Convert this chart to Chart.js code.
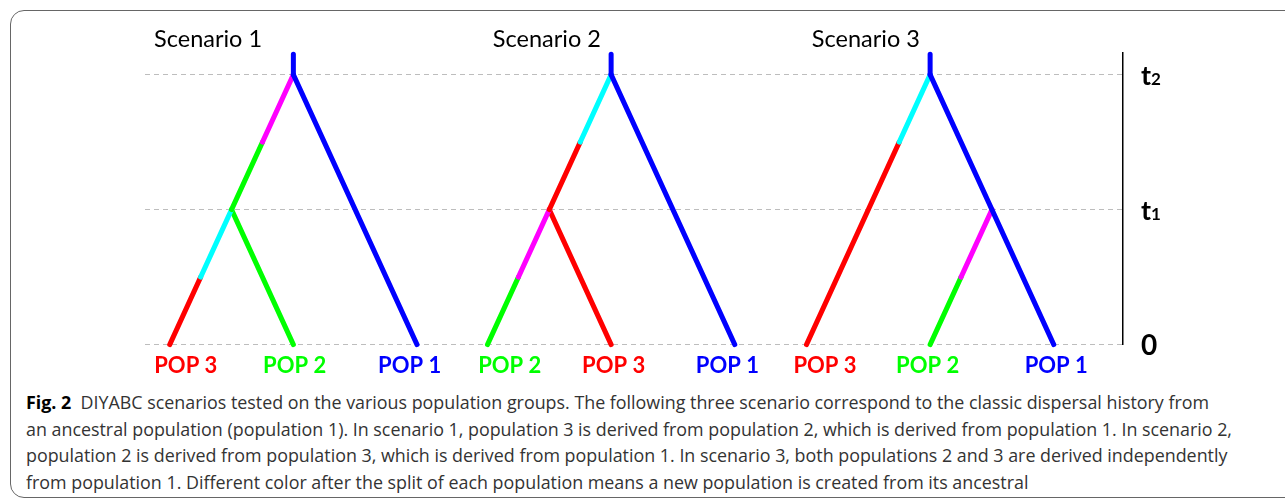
<!DOCTYPE html>
<html>
<head>
<meta charset="utf-8">
<script src="https://cdn.jsdelivr.net/npm/chart.js@4"></script>
<style>
  html, body { margin: 0; padding: 0; background: #fff; }
  body { width: 1285px; height: 500px; position: relative; overflow: hidden; }
  #frame { position: absolute; left: 10px; top: 10px; width: 1300px; height: 486px;
           border: 1.5px solid #666; border-radius: 14px; }
  #wrap { position: absolute; left: 0; top: 0; width: 1285px; height: 389px; }
  #caption { position: absolute; left: 26px; top: 389px; font-family: 'Open Sans', sans-serif;
             font-size: 18.5px; line-height: 26.5px; color: #333; white-space: nowrap; }
  #caption div { transform-origin: 0 0; }
  #caption b { color: #000; }
</style>
</head>
<body>
<div id="frame"></div>
<div id="wrap"><canvas id="chart"></canvas></div>
<div id="caption">
  <div><b>Fig. 2</b>&nbsp; DIYABC scenarios tested on the various population groups. The following three scenario correspond to the classic dispersal history from</div>
  <div>an ancestral population (population 1). In scenario 1, population 3 is derived from population 2, which is derived from population 1. In scenario 2,</div>
  <div>population 2 is derived from population 3, which is derived from population 1. In scenario 3, both populations 2 and 3 are derived independently</div>
  <div>from population 1. Different color after the split of each population means a new population is created from its ancestral</div>
</div>
<script>
const scenarioNames = ['Scenario 1', 'Scenario 2', 'Scenario 3'];
const scenarioOffset = [0, 2.57, 5.15];
const titleX = [0.31, 0.48, 0.48];
const titleT = 2.26;

const tipX = [0, 1, 2];
const tipNames = [['POP 3', 'POP 2', 'POP 1'], ['POP 2', 'POP 3', 'POP 1'], ['POP 3', 'POP 2', 'POP 1']];
const tipLabelShift = [[0.13, 0.01, -0.06], [0.18, 0.02, -0.06], [0.15, -0.02, 0.02]];

const timeTicks = [0, 1, 2];
const timeNames = [['0', ''], ['t', '1'], ['t', '2']];

const colors = { R: '#ff0000', G: '#00ff00', B: '#0000ff', M: '#ff00ff', C: '#00ffff' };
const popColor = { 'POP 1': colors.B, 'POP 2': colors.G, 'POP 3': colors.R };

// branch: [x start, time start, x end, time end, time where colour changes, upper colour, lower colour]
const branches1 = [
  [1, 2.15, 1, 2, 2, 'B', 'B'],
  [1, 2, 2, 0, 0, 'B', 'B'],
  [1, 2, 0.5, 1, 1.5, 'M', 'G'],
  [0.5, 1, 0, 0, 0.5, 'C', 'R'],
  [0.5, 1, 1, 0, 0.5, 'G', 'G']
];
const branches2 = [
  [1, 2.15, 1, 2, 2, 'B', 'B'],
  [1, 2, 2, 0, 0, 'B', 'B'],
  [1, 2, 0.5, 1, 1.5, 'C', 'R'],
  [0.5, 1, 0, 0, 0.5, 'M', 'G'],
  [0.5, 1, 1, 0, 0.5, 'R', 'R']
];
const branches3 = [
  [1, 2.15, 1, 2, 2, 'B', 'B'],
  [1, 2, 2, 0, 0, 'B', 'B'],
  [1, 2, 0, 0, 1.5, 'C', 'R'],
  [1.5, 1, 1, 0, 0.5, 'M', 'G']
];

function lineSet(points, color) {
  return {
    data: points,
    showLine: true,
    borderColor: color,
    borderWidth: 5,
    borderCapStyle: 'round',
    pointRadius: 0,
    clip: false
  };
}

const datasets = [];
[branches1, branches2, branches3].forEach((branches, s) => {
  const off = scenarioOffset[s];
  branches.forEach(([x0, t0, x1, t1, tc, up, low]) => {
    const f = (t0 - tc) / (t0 - t1);
    const xc = x0 + (x1 - x0) * f;
    if (up === low) {
      datasets.push(lineSet([{ x: off + x0, y: t0 }, { x: off + x1, y: t1 }], colors[up]));
    } else {
      datasets.push(lineSet([{ x: off + x0, y: t0 }, { x: off + xc, y: tc }], colors[up]));
      datasets.push(lineSet([{ x: off + xc, y: tc }, { x: off + x1, y: t1 }], colors[low]));
    }
  });
});

const tipTickValues = [];
const tipTickLabels = [];
tipNames.forEach((names, s) => {
  names.forEach((n, i) => {
    tipTickValues.push(scenarioOffset[s] + tipX[i] + tipLabelShift[s][i]);
    tipTickLabels.push(n);
  });
});

const treeText = {
  id: 'treeText',
  afterDraw(chart) {
    const { ctx, scales: { x, y } } = chart;
    ctx.save();
    ctx.fillStyle = '#000';
    ctx.font = '23.5px Lato';
    ctx.textAlign = 'center';
    ctx.textBaseline = 'middle';
    scenarioNames.forEach((name, s) => {
      ctx.fillText(name, x.getPixelForValue(scenarioOffset[s] + titleX[s]), y.getPixelForValue(titleT));
    });

    ctx.textAlign = 'left';
    ctx.textBaseline = 'alphabetic';
    timeTicks.forEach((t, i) => {
      const [main, sub] = timeNames[i];
      const px = y.right + 18;
      const py = y.getPixelForValue(t) + 10;
      ctx.font = main === '0' ? 'bold 28px Lato' : 'bold 27px Lato';
      ctx.fillText(main, px, py);
      if (sub) {
        const w = ctx.measureText(main).width;
        ctx.font = 'bold 17px Lato';
        ctx.fillText(sub, px + w, py);
      }
    });
    ctx.restore();
  }
};

new Chart(document.getElementById('chart'), {
  type: 'scatter',
  data: { datasets },
  options: {
    responsive: true,
    maintainAspectRatio: false,
    animation: false,
    layout: { padding: { left: 145, top: 53, right: 162, bottom: 2 } },
    plugins: { legend: { display: false }, tooltip: { enabled: false } },
    scales: {
      x: {
        type: 'linear',
        min: -0.2,
        max: 7.71,
        afterBuildTicks: axis => { axis.ticks = tipTickValues.map(v => ({ value: v })); },
        ticks: {
          autoSkip: false,
          maxRotation: 0,
          padding: 8,
          font: { family: 'Lato', size: 22, weight: 'bold' },
          color: ctx => popColor[tipTickLabels[ctx.index]],
          callback: (v, i) => tipTickLabels[i]
        },
        grid: { display: false, drawTicks: false },
        border: { display: false }
      },
      y: {
        type: 'linear',
        position: 'right',
        min: 0,
        max: 2.16,
        afterBuildTicks: axis => { axis.ticks = timeTicks.map(v => ({ value: v })); },
        ticks: { display: false },
        grid: { color: '#bdbdbd', lineWidth: 1, drawTicks: false },
        border: { display: true, color: '#000', width: 1.5, dash: [5, 4] }
      }
    }
  },
  plugins: [treeText]
});

// squeeze caption lines to the width of the printed caption
const capLines = document.querySelectorAll('#caption div');
const firstW = capLines[0].getBoundingClientRect().width;
const sx = 1206 / firstW;
capLines.forEach(d => { d.style.transform = 'scaleX(' + sx + ')'; });
</script>
</body>
</html>
